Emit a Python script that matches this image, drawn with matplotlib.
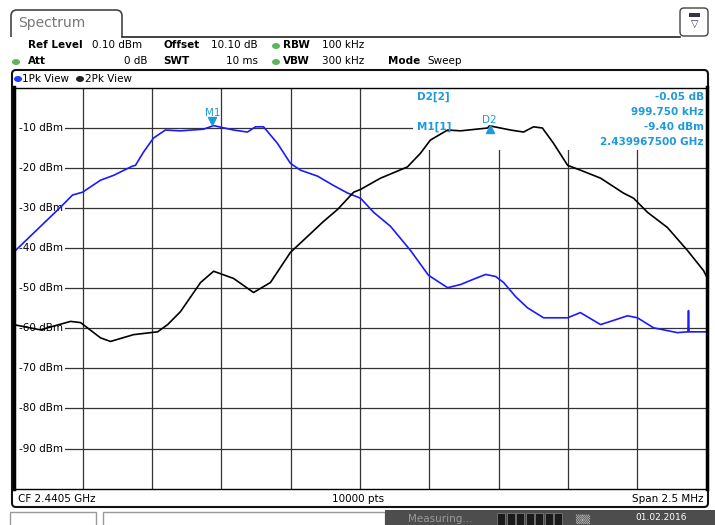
import matplotlib
matplotlib.use("Agg")
import matplotlib.pyplot as plt
from matplotlib.patches import Rectangle, FancyBboxPatch, Ellipse
from matplotlib.transforms import Affine2D

W, H = 715, 525

# trace 1 (blue): frequency in MHz, level in dBm
trace1_freq = [2439.250, 2439.420, 2439.463, 2439.499, 2439.564, 2439.611, 2439.679, 2439.690,
               2439.719, 2439.755, 2439.798, 2439.852, 2439.935, 2439.972, 2440.044, 2440.094,
               2440.123, 2440.152, 2440.202, 2440.249, 2440.285, 2440.347, 2440.404, 2440.455,
               2440.502, 2440.549, 2440.610, 2440.682, 2440.747, 2440.816, 2440.863, 2440.909,
               2440.953, 2440.989, 2441.018, 2441.061, 2441.104, 2441.162, 2441.249, 2441.295,
               2441.368, 2441.465, 2441.501, 2441.559, 2441.645, 2441.683, 2441.685, 2441.687,
               2441.750]
trace1_level = [-41.0, -29.7, -26.7, -26.0, -23.0, -21.8, -19.5, -19.3,
                -16.0, -12.5, -10.5, -10.7, -10.3, -9.4, -10.5, -11.0,
                -9.7, -9.7, -13.8, -18.8, -20.5, -22.0, -24.3, -26.2,
                -27.5, -31.0, -34.5, -40.5, -46.7, -49.8, -49.0, -47.7,
                -46.5, -47.0, -48.5, -52.0, -54.8, -57.3, -57.3, -56.0,
                -59.0, -56.8, -57.3, -59.8, -61.0, -60.8, -55.5, -60.8,
                -60.8]

# trace 2 (black)
trace2_freq = [2439.250, 2439.347, 2439.456, 2439.492, 2439.564, 2439.600, 2439.683, 2439.770,
               2439.806, 2439.852, 2439.925, 2439.972, 2440.044, 2440.116, 2440.177, 2440.249,
               2440.311, 2440.368, 2440.419, 2440.477, 2440.502, 2440.574, 2440.671, 2440.718,
               2440.754, 2440.816, 2440.863, 2440.960, 2440.967, 2441.043, 2441.090, 2441.126,
               2441.158, 2441.198, 2441.249, 2441.295, 2441.368, 2441.450, 2441.487, 2441.537,
               2441.609, 2441.681, 2441.739, 2441.750]
trace2_level = [-59.0, -60.3, -58.2, -58.5, -62.3, -63.2, -61.5, -60.8,
                -59.0, -55.8, -48.5, -45.7, -47.5, -51.0, -48.5, -41.0,
                -37.0, -33.3, -30.3, -26.0, -25.3, -22.5, -19.7, -16.3,
                -13.0, -10.5, -10.7, -10.0, -9.45, -10.5, -11.0, -9.7,
                -10.0, -13.8, -19.3, -20.5, -22.5, -26.2, -27.5, -31.0,
                -34.8, -40.5, -45.5, -47.0]

y_labels = ["-10 dBm", "-20 dBm", "-30 dBm", "-40 dBm", "-50 dBm",
            "-60 dBm", "-70 dBm", "-80 dBm", "-90 dBm"]
ref_level = 0.10
center_mhz = 2440.5
span_mhz = 2.5

m1_freq, m1_level = 2439.9675, -9.40
d2_freq, d2_level = 2440.96725, -9.45
info_left = ["D2[2]", "", "M1[1]", ""]
info_right = ["-0.05 dB", "999.750 kHz", "-9.40 dBm", "2.439967500 GHz"]

CYAN = "#1e9ad8"

fig = plt.figure(figsize=(W / 100, H / 100), dpi=100)
# pixel coords, origin top-left
px = Affine2D().scale(1 / W, -1 / H).translate(0, 1) + fig.transFigure


def box(x, y, w, h, r=0, **kw):
    style = "round,pad=0,rounding_size=%g" % r if r else "square,pad=0"
    p = FancyBboxPatch((x, y), w, h, boxstyle=style, transform=px, **kw)
    fig.add_artist(p)
    return p


def txt(x, y, s, **kw):
    kw.setdefault("fontsize", 7.5)
    kw.setdefault("va", "center")
    return fig.text(x, y, s, transform=px, **kw)


def dot(x, y, color):
    fig.add_artist(Ellipse((x, y), 8, 6, transform=px, fc=color, ec="none", zorder=2))


# tab and header
box(11, 10, 111, 40, r=6, fc="white", ec="#444", lw=1.2, zorder=0.5)
box(5, 37, 700, 25, fc="white", ec="none", zorder=0.6)
fig.add_artist(plt.Line2D([122, 680], [36.5, 36.5], transform=px, color="#222", lw=1.2, zorder=0.7))
txt(18, 23, "Spectrum", fontsize=10, color="#777")
box(680, 8, 28, 28, r=4, fc="white", ec="#444", lw=1.0, zorder=0.7)
box(689, 13, 11, 4, fc="#334", ec="none", zorder=0.8)
txt(694.5, 24, "\u25bd", fontsize=7, ha="center", color="#334")

txt(28, 45, "Ref Level", weight="bold")
txt(92, 45, "0.10 dBm")
txt(163, 45, "Offset", weight="bold")
txt(258, 45, "10.10 dB", ha="right")
dot(276, 46, "#5bb55a")
txt(283, 45, "RBW", weight="bold")
txt(322, 45, "100 kHz")
dot(16, 62, "#5bb55a")
txt(28, 61, "Att", weight="bold")
txt(147, 61, "0 dB", ha="right")
txt(163, 61, "SWT", weight="bold")
txt(258, 61, "10 ms", ha="right")
dot(276, 62, "#5bb55a")
txt(283, 61, "VBW", weight="bold")
txt(322, 61, "300 kHz")
txt(388, 61, "Mode", weight="bold")
txt(427, 61, "Sweep")

# main panel
box(12, 70, 696, 437, r=4, fc="white", ec="#111", lw=1.5, zorder=0.5)
dot(18, 79, "#1f3cff")
txt(22, 78.5, "1Pk View")
dot(80, 79, "#222")
txt(85, 78.5, "2Pk View")

# footer
txt(18, 499, "CF 2.4405 GHz")
txt(358, 499, "10000 pts", ha="center")
txt(704, 499, "Span 2.5 MHz", ha="right")

# status bar
box(10, 512, 86, 20, fc="white", ec="#999", lw=1, zorder=0.5)
box(103, 512, 282, 20, fc="white", ec="#999", lw=1, zorder=0.5)
box(385, 510, 330, 20, fc="#4d4d4d", ec="none", zorder=0.5)
txt(408, 514, "Measuring...", va="top", color="#9a9a9a", fontsize=7.5)
for i in range(7):
    box(497 + i * 9.5, 513, 8, 12, fc="#1a1a1a", ec="#777", lw=0.6, zorder=0.8)
txt(575, 514, "\u2592\u2592", va="top", color="#bbb", fontsize=7)
txt(635, 513, "01.02.2016", va="top", color="white", fontsize=6.5)

# trace area
left, right, top, bottom = 13.5, 706.5, 87.5, 488.7
ax = fig.add_axes([left / W, 1 - bottom / H, (right - left) / W, (bottom - top) / H])
ax.set_zorder(1)
f0 = center_mhz - span_mhz / 2
ax.set_xlim(f0, f0 + span_mhz)
ax.set_ylim(ref_level - 100, ref_level)
ax.set_xticks([])
ax.set_yticks([])

for k in range(1, 10):
    ax.axvline(f0 + k * span_mhz / 10, color="#333", lw=0.9, zorder=0.5)
    ax.axhline(ref_level - 10 * k, color="#333", lw=0.9, zorder=0.5)

# marker info area hides the grid
ax.add_patch(Rectangle((2440.69, -15.5), 1.1, 16, fc="white", ec="none", zorder=1))

# level labels sit over the grid but under the traces
for k, lab in enumerate(y_labels):
    ax.text(0.0075, ref_level - 10 * (k + 1), lab, transform=ax.get_yaxis_transform(),
            fontsize=7.5, va="center", ha="left", zorder=1.5,
            bbox=dict(boxstyle="square,pad=0.25", fc="white", ec="none"))

ax.plot(trace1_freq, trace1_level, color="#1a1aff", lw=1.2, zorder=2)
ax.plot(trace2_freq, trace2_level, color="black", lw=1.2, zorder=3)

ax.plot(m1_freq, m1_level + 1.1, marker="v", ms=6, color=CYAN, zorder=4)
ax.text(m1_freq, m1_level + 3.1, "M1", color=CYAN, fontsize=7.5, ha="center", va="center", zorder=4)
ax.plot(d2_freq, d2_level - 0.8, marker="^", ms=6, color=CYAN, zorder=4)
ax.text(d2_freq, d2_level + 1.5, "D2", color=CYAN, fontsize=7.5, ha="center", va="center", zorder=4)

for i, (a, b) in enumerate(zip(info_left, info_right)):
    y = 97 + i * 15
    if a:
        txt(417, y, a, color=CYAN, weight="bold", zorder=5)
    txt(704, y, b, color=CYAN, weight="bold", ha="right", zorder=5)

for side in ("left", "right"):
    ax.spines[side].set_linewidth(2.5)
for side in ("top", "bottom"):
    ax.spines[side].set_linewidth(1.0)

fig.savefig("out.png", dpi=100)
